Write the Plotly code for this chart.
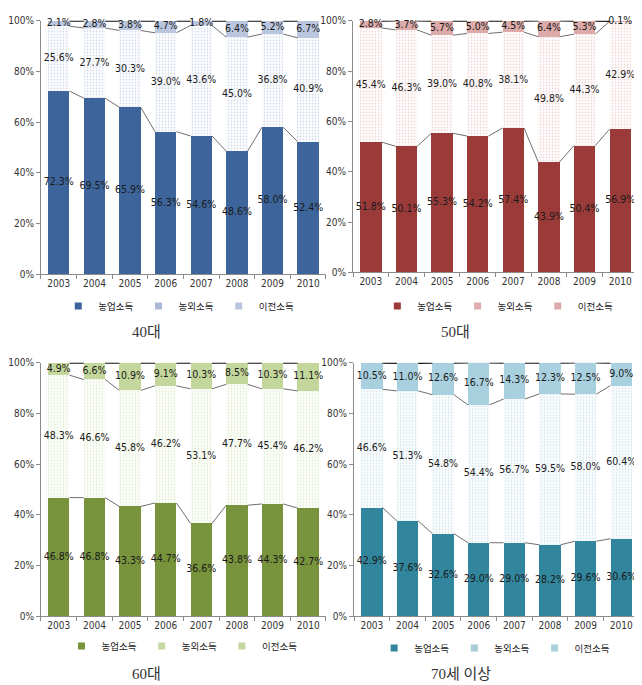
import plotly.graph_objects as go

years = ["2003", "2004", "2005", "2006", "2007", "2008", "2009", "2010"]
series_names = ["농업소득", "농외소득", "이전소득"]
titles = ["40대", "50대", "60대", "70세 이상"]

farm_40 = [72.3, 69.5, 65.9, 56.3, 54.6, 48.6, 58.0, 52.4]
offfarm_40 = [25.6, 27.7, 30.3, 39.0, 43.6, 45.0, 36.8, 40.9]
transfer_40 = [2.1, 2.8, 3.8, 4.7, 1.8, 6.4, 5.2, 6.7]

farm_50 = [51.8, 50.1, 55.3, 54.2, 57.4, 43.9, 50.4, 56.9]
offfarm_50 = [45.4, 46.3, 39.0, 40.8, 38.1, 49.8, 44.3, 42.9]
transfer_50 = [2.8, 3.7, 5.7, 5.0, 4.5, 6.4, 5.3, 0.1]

farm_60 = [46.8, 46.8, 43.3, 44.7, 36.6, 43.8, 44.3, 42.7]
offfarm_60 = [48.3, 46.6, 45.8, 46.2, 53.1, 47.7, 45.4, 46.2]
transfer_60 = [4.9, 6.6, 10.9, 9.1, 10.3, 8.5, 10.3, 11.1]

farm_70 = [42.9, 37.6, 32.6, 29.0, 29.0, 28.2, 29.6, 30.6]
offfarm_70 = [46.6, 51.3, 54.8, 54.4, 56.7, 59.5, 58.0, 60.4]
transfer_70 = [10.5, 11.0, 12.6, 16.7, 14.3, 12.3, 12.5, 9.0]

panels_data = [
    (farm_40, offfarm_40, transfer_40),
    (farm_50, offfarm_50, transfer_50),
    (farm_60, offfarm_60, transfer_60),
    (farm_70, offfarm_70, transfer_70),
]

# styles
solid_colors = ["#3D659C", "#9A3B39", "#77933C", "#31859C"]
dot_colors = ["#A9B9D6", "#E2AEAD", "#C6D9A3", "#A6CCD9"]
light_colors = ["#B9C6DE", "#DCAAA9", "#C3D69B", "#A8D0DE"]

x_domains = [[0.0514, 0.4953], [0.5374, 0.9813], [0.0514, 0.4953], [0.5390, 0.9829]]
y_domains = [[0.6131, 0.9898], [0.6161, 0.9898], [0.1051, 0.4818], [0.1051, 0.4818]]
legend_pos = [(0.266, 0.566), (0.763, 0.566), (0.271, 0.061), (0.758, 0.058)]
title_pos = [(0.215, 0.528), (0.697, 0.528), (0.215, 0.019), (0.706, 0.019)]

num_font = "Liberation Sans Narrow, DejaVu Sans Condensed, Arial Narrow, Noto Sans CJK KR, sans-serif"
kr_font = "Noto Sans CJK KR, sans-serif"

BAR_W = 0.6
xs = list(range(len(years)))

fig = go.Figure()
layout_axes = {}
legends = {}
annotations = []

for p, (farm, off, trans) in enumerate(panels_data):
    n = p + 1
    xa = "x" if n == 1 else f"x{n}"
    ya = "y" if n == 1 else f"y{n}"
    lg = "legend" if n == 1 else f"legend{n}"

    series_vals = [farm, off, trans]
    markers = [
        dict(color=solid_colors[p]),
        dict(color="white", pattern=dict(shape=".", fgcolor=dot_colors[p], bgcolor="white",
                                         size=3, solidity=0.3)),
        dict(color=light_colors[p]),
    ]
    base = [0.0] * len(years)
    for s, vals in enumerate(series_vals):
        fig.add_trace(go.Bar(
            x=xs, y=vals, width=BAR_W, xaxis=xa, yaxis=ya,
            marker=dict(line=dict(width=0), **markers[s]),
            showlegend=False, name=series_names[s], hoverinfo="skip",
        ))
        mids = [b + v / 2 for b, v in zip(base, vals)]
        fig.add_trace(go.Scatter(
            x=xs, y=mids, mode="text", xaxis=xa, yaxis=ya,
            text=[f"{v:.1f}%" for v in vals], textposition="middle center",
            textfont=dict(family=num_font, size=10.5, color="#1a1a1a"),
            showlegend=False, hoverinfo="skip", cliponaxis=False,
        ))
        base = [b + v for b, v in zip(base, vals)]

    # series connector lines
    cum1 = farm
    cum2 = [a + b for a, b in zip(farm, off)]
    cum3 = [a + b + c for a, b, c in zip(farm, off, trans)]
    for cum, col, lw in [(cum1, "#4a4a4a", 0.8), (cum2, "#4a4a4a", 0.8), (cum3, "#111111", 1.8)]:
        lx, ly = [], []
        for i in range(len(years) - 1):
            lx += [xs[i] + BAR_W / 2, xs[i + 1] - BAR_W / 2, None]
            ly += [cum[i], cum[i + 1], None]
        fig.add_trace(go.Scatter(x=lx, y=ly, mode="lines", xaxis=xa, yaxis=ya,
                                 line=dict(color=col, width=lw), showlegend=False,
                                 hoverinfo="skip", cliponaxis=False))

    # legend entries
    leg_colors = [solid_colors[p], dot_colors[p], light_colors[p]]
    for s in range(3):
        fig.add_trace(go.Scatter(x=[None], y=[None], mode="markers", xaxis=xa, yaxis=ya,
                                 marker=dict(symbol="square", size=7, color=leg_colors[s]),
                                 name=series_names[s], legend=lg, showlegend=True))

    layout_axes["xaxis" if n == 1 else f"xaxis{n}"] = dict(
        domain=x_domains[p], anchor=ya, range=[-0.5, len(years) - 0.5],
        tickmode="array", tickvals=xs, ticktext=years, ticks="",
        showline=True, linecolor="#8c8c8c", linewidth=1, showgrid=False, zeroline=False,
        tickfont=dict(family=num_font, size=10, color="#333333"),
        minor=dict(tickmode="array", tickvals=[i - 0.5 for i in range(len(years) + 1)],
                   ticks="outside", ticklen=4, tickcolor="#8c8c8c", showgrid=False),
        fixedrange=True,
    )
    layout_axes["yaxis" if n == 1 else f"yaxis{n}"] = dict(
        domain=y_domains[p], anchor=xa, range=[0, 100], dtick=20, ticksuffix="%",
        ticks="outside", ticklen=4, tickcolor="#8c8c8c",
        showline=True, linecolor="#8c8c8c", linewidth=1, showgrid=False, zeroline=False,
        tickfont=dict(family=num_font, size=10, color="#333333"),
        fixedrange=True,
    )
    legends[lg] = dict(
        orientation="h", x=legend_pos[p][0], y=legend_pos[p][1],
        xanchor="center", yanchor="middle", bgcolor="rgba(0,0,0,0)",
        font=dict(family=kr_font, size=9.5, color="#222222"),
        itemwidth=30, tracegroupgap=0, traceorder="normal",
    )
    annotations.append(dict(
        text=titles[p], xref="paper", yref="paper",
        x=title_pos[p][0], y=title_pos[p][1], xanchor="center", yanchor="middle",
        showarrow=False,
        font=dict(family="Liberation Serif, DejaVu Serif, Noto Sans CJK KR, serif", size=15, color="#333333"),
    ))

fig.update_layout(
    width=642, height=685, margin=dict(l=0, r=0, t=0, b=0),
    paper_bgcolor="white", plot_bgcolor="white",
    barmode="stack", annotations=annotations,
    **layout_axes, **legends,
)

fig.write_html("out.html")
